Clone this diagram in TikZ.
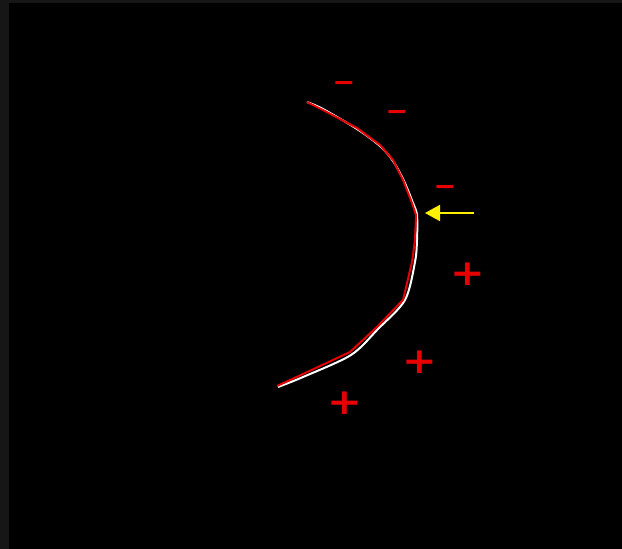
\documentclass[tikz,border=0pt]{standalone}
\usepackage{fontspec}
\setmainfont{DejaVu Sans}
\usetikzlibrary{arrows.meta}
\definecolor{figR}{RGB}{230,0,0}
\definecolor{figY}{RGB}{255,240,0}
\definecolor{figG}{RGB}{22,22,22}

\begin{document}
\begin{tikzpicture}[x=1pt,y=-1pt,>={Triangle[length=15pt,width=16pt]},
  minussign/.style={text=figR,inner sep=0pt,font=\bfseries\fontsize{27}{27}\selectfont},
  plussign/.style={text=figR,inner sep=0pt,xscale=1.15,font=\bfseries\fontsize{36}{36}\selectfont}]
% frame and black field
\useasboundingbox (0,0) rectangle (622,549);
\fill[figG] (0,0) rectangle (622,549);
\fill[black] (9,3) rectangle (622,549);
% the boundary: smooth white curve under the red polyline
\draw[white,line width=2pt] plot[smooth] coordinates {(307,102) (323,109) (357,129) (380,146) (393,161) (404,181) (413,203) (417,215) (417,240) (415,262) (405,300) (378,329) (351,355) (303,377) (278,387)};
\draw[figR,line width=2pt,line join=round] (307,102) -- (323,110) -- (357,128) -- (380,145) -- (393,160) -- (403,180) -- (412,203) -- (416,215) -- (415,240) -- (412,262) -- (403,300) -- (377,327) -- (350,352) -- (303,374) -- (277,386);
% charges
\node[minussign] (mA) at (344,86) {−};
\node[minussign] (mB) at (397,115) {−};
\node[minussign] (mC) at (445,190) {−};
\node[plussign] (pA) at (468,274) {+};
\node[plussign] (pB) at (420,362) {+};
\node[plussign] (pC) at (345,403) {+};
% pointer
\coordinate (tail) at (474,213);
\coordinate (tip) at (425,213);
\draw[->,figY,line width=2pt] (tail) -- (tip);
\end{tikzpicture}
\end{document}
